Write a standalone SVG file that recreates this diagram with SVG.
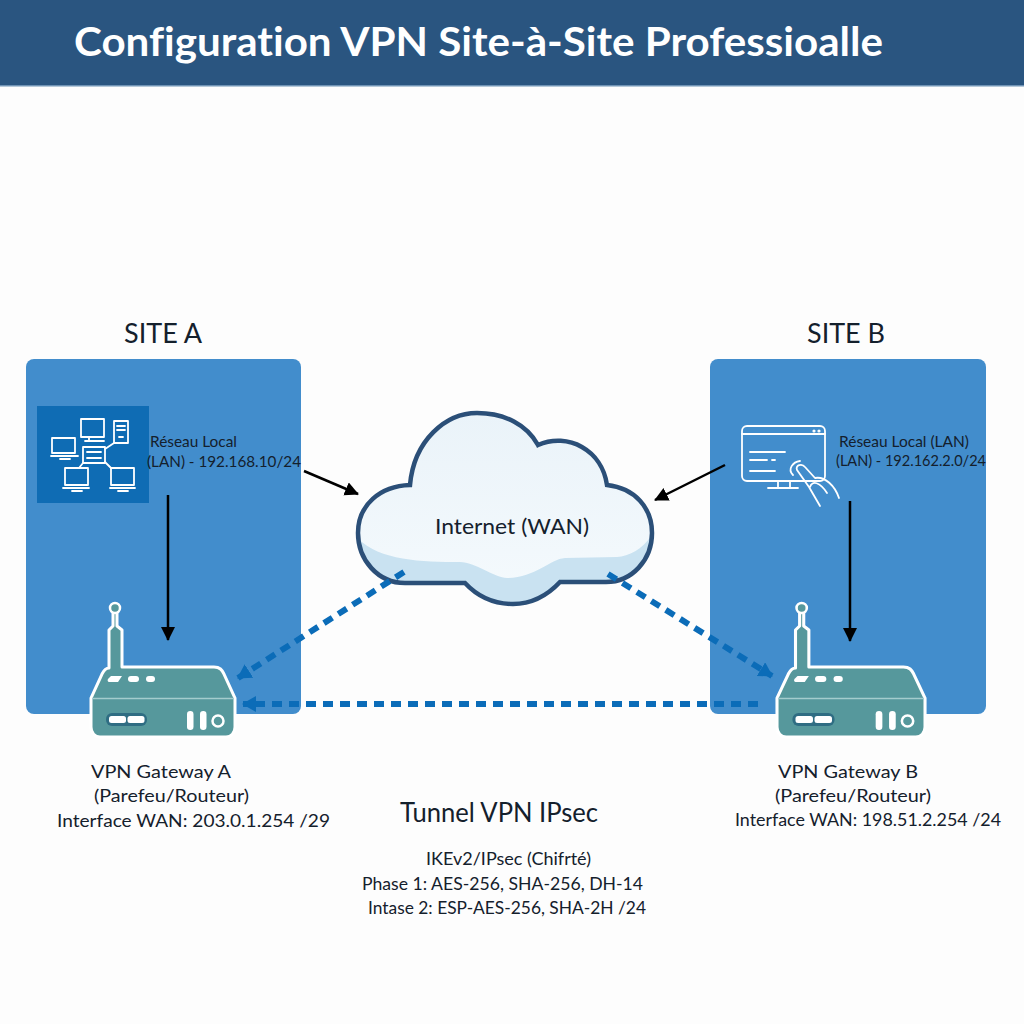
<svg xmlns="http://www.w3.org/2000/svg" width="1024" height="1024" viewBox="0 0 1024 1024">
<style>
text{font-family:"Lato","Liberation Sans",sans-serif;fill:#14202c;font-variant-ligatures:none}
.site{font-size:26px}
.lbl{font-size:21px}
.sm{font-size:15px}
.tun{font-size:18px}
.ic{fill:none;stroke:#fff;stroke-width:1.800;stroke-linecap:round;stroke-linejoin:round}
.blk{fill:none;stroke:#000;stroke-width:2.500}
.dash{fill:none;stroke:#0b6cb8;stroke-width:6;stroke-dasharray:10 7}
.panel{fill:#428dcc}
</style>
<defs>
<linearGradient id="cg" x1="0" y1="0" x2="0" y2="1"><stop offset="0" stop-color="#eaf3f9"/><stop offset="1" stop-color="#f5fafd"/></linearGradient>
<marker id="ab" markerWidth="15" markerHeight="15" refX="13" refY="7" orient="auto" markerUnits="userSpaceOnUse"><path d="M0 0L14 7L0 14Z" fill="#000"/></marker>
<marker id="ae" markerWidth="16" markerHeight="17" refX="13" refY="8" orient="auto" markerUnits="userSpaceOnUse"><path d="M0 0L14 8L0 16Z" fill="#0b6cb8"/></marker>
<clipPath id="cc"><path id="cp" d="M410 485C414 440 446 413 477 413C505 413 527 425 538 445C568 432 602 450 607 485C635 488 652 508 652 533C652 560 632 582 606 582L560 582C545 598 530 604 513 604C494 604 478 597 465 583L405 583C378 583 358 560 358 533C358 505 380 486 410 485Z"/></clipPath>
<g id="router">
<path d="M109 668V630L113 626V612H117V626L122 630V667H214C220 667 222 670 224 674L235 698V727C235 733 231 737 226 737H100C95 737 91 733 91 727V698L102 674C104 670 106 668 109 668Z" fill="#56989c" stroke="#fff" stroke-width="3" stroke-linejoin="round"/>
<circle cx="115" cy="608" r="5" fill="#56989c" stroke="#fff" stroke-width="2.500"/>
<path d="M92 698.500H234" stroke="#a4cccd" stroke-width="1.500"/>
<path d="M111 676H122L118 682H109C108 682 107 680 108 679Z" fill="#fff"/>
<rect x="128" y="676" width="11" height="6" rx="3" fill="#fff"/>
<rect x="146" y="676" width="9" height="6" rx="3" fill="#fff"/>
<rect x="106" y="713" width="41" height="13" rx="6" fill="#2f6d83"/>
<rect x="109" y="716" width="17" height="7" rx="2.500" fill="#fff"/>
<rect x="127.500" y="716" width="17" height="7" rx="2.500" fill="#fff"/>
<rect x="187" y="711" width="6.500" height="19" rx="3.200" fill="#fff"/>
<rect x="200" y="711" width="6.500" height="19" rx="3.200" fill="#fff"/>
<circle cx="218" cy="721" r="5.500" fill="none" stroke="#fff" stroke-width="2.500"/>
</g>
</defs>
<rect width="1024" height="1024" fill="#fdfdfd"/>
<g id="header"><rect width="1024" height="85" fill="#2a5580"/><rect y="85" width="1024" height="1.500" fill="#6f93b5"/>
<text x="74" y="56" textLength="809" lengthAdjust="spacingAndGlyphs" style="font-size:41px;font-weight:700;fill:#fff">Configuration VPN Site-à-Site Professioalle</text></g>

<g id="site-a"><text class="site" x="124" y="343" textLength="78" lengthAdjust="spacingAndGlyphs">SITE A</text><rect class="panel" x="26" y="359" width="275" height="355" rx="8"/>
<rect x="37" y="406" width="112" height="97" fill="#0f6cb4"/>
<g class="ic"><rect x="81" y="419" width="23" height="18"/><path d="M89 437V440M85 441H104"/><rect x="114" y="421" width="14" height="22"/><path d="M117 426H125M117 430H125M119 437H123"/><rect x="52" y="438" width="23" height="15"/><path d="M51 456H78M60 459H70"/><rect x="83" y="447" width="22" height="16"/><path d="M87 452H101M87 458H101M105 449L114 443M83 463L79 468M105 462L111 468"/><rect x="65" y="468" width="23" height="17"/><path d="M63 488H89M72 491H82"/><rect x="111" y="468" width="23" height="17"/><path d="M110 488H135M118 491H128"/></g>
<text class="sm" x="150" y="447" textLength="87" lengthAdjust="spacingAndGlyphs">Réseau Local</text><text class="sm" x="147" y="467" textLength="154" lengthAdjust="spacingAndGlyphs">(LAN) - 192.168.10/24</text></g>

<g id="site-b"><text class="site" x="807" y="343" textLength="78" lengthAdjust="spacingAndGlyphs">SITE B</text><rect class="panel" x="710" y="359" width="276" height="355" rx="8"/>
<g class="ic" stroke-width="2"><rect x="742" y="426" width="83" height="55" rx="5"/><path d="M742 434H825M750 452H785M750 460H767M772 460H775M750 471H775M778 481V488M790 481V488M768 488H798"/>
<path d="M800 461C793 462 787 469 793 475M797 470C795 465 802 463 805 467L815 478C825 476 835 486 839 498M797 470L809 487L820 506M810 487C812 480 820 482 827 493"/><circle cx="814" cy="431" r="0.700"/><circle cx="819" cy="431" r="0.700"/></g>
<text class="sm" x="839" y="447" textLength="130" lengthAdjust="spacingAndGlyphs">Réseau Local (LAN)</text><text class="sm" x="836" y="466" textLength="150" lengthAdjust="spacingAndGlyphs">(LAN) - 192.162.2.0/24</text></g>

<g id="cloud"><use href="#cp" fill="url(#cg)"/><path clip-path="url(#cc)" d="M355 535C375 560 420 562 460 562C475 562 495 578 507 578C535 578 550 559 565 558L617 557C630 556 645 548 655 530V610H355Z" fill="#c9e2f1"/><use href="#cp" fill="none" stroke="#2b4f78" stroke-width="4.500"/>
<text class="lbl" x="435" y="534" textLength="154" lengthAdjust="spacingAndGlyphs">Internet (WAN)</text></g>

<g id="connectors">
<path class="blk" marker-end="url(#ab)" d="M168 495V640"/>
<path class="blk" marker-end="url(#ab)" d="M850 501V641"/>
<path class="blk" marker-end="url(#ab)" d="M304 471L358 494"/>
<path class="blk" marker-end="url(#ab)" d="M725 465L655 500"/>
<path class="dash" marker-end="url(#ae)" d="M404 572L238 678"/>
<path class="dash" marker-end="url(#ae)" d="M608 574L772 676"/>
<path class="dash" marker-end="url(#ae)" d="M758 704H243"/>
</g>
<use id="gateway-a" href="#router"/>
<use id="gateway-b" href="#router" transform="translate(777 0) scale(1.028 1) translate(-91 0)"/>
<g id="label-a"><text class="tun" x="91" y="778" textLength="140" lengthAdjust="spacingAndGlyphs">VPN Gateway A</text><text class="tun" x="94" y="802" textLength="155" lengthAdjust="spacingAndGlyphs">(Parefeu/Routeur)</text><text class="tun" x="57" y="827" textLength="273" lengthAdjust="spacingAndGlyphs">Interface WAN: 203.0.1.254 /29</text></g>
<g id="label-b"><text class="tun" x="778" y="778" textLength="140" lengthAdjust="spacingAndGlyphs">VPN Gateway B</text><text class="tun" x="775" y="802" textLength="156" lengthAdjust="spacingAndGlyphs">(Parefeu/Routeur)</text><text class="tun" x="735" y="826" textLength="266" lengthAdjust="spacingAndGlyphs">Interface WAN: 198.51.2.254 /24</text></g>
<g id="tunnel"><text class="site" x="400" y="822" textLength="198" lengthAdjust="spacingAndGlyphs">Tunnel VPN IPsec</text><text class="tun" x="426" y="865" textLength="165" lengthAdjust="spacingAndGlyphs">IKEv2/IPsec (Chifrté)</text><text class="tun" x="362" y="890" textLength="281" lengthAdjust="spacingAndGlyphs">Phase 1: AES-256, SHA-256, DH-14</text><text class="tun" x="368" y="914" textLength="278" lengthAdjust="spacingAndGlyphs">Intase 2: ESP-AES-256, SHA-2H /24</text></g>
</svg>
